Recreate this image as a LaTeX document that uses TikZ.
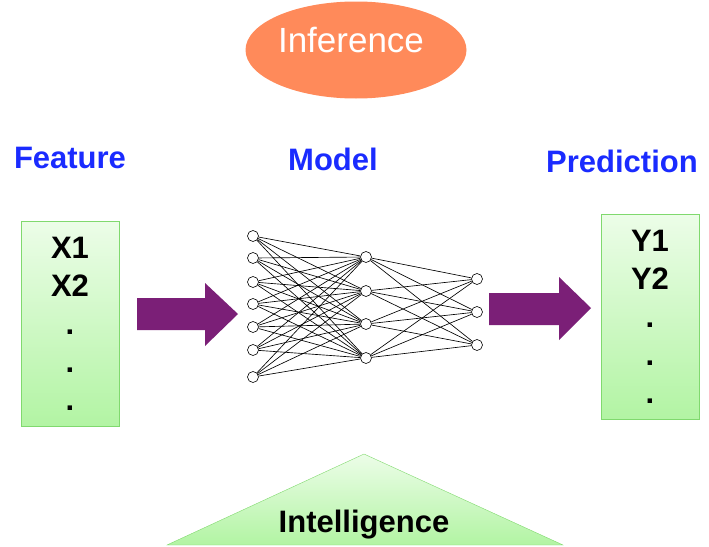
\documentclass[tikz,border=0pt]{standalone}
\usepackage{fontspec}
\setmainfont{Liberation Sans}
\usetikzlibrary{shapes.geometric, positioning}

\definecolor{inferorange}{HTML}{FF8A5A}
\definecolor{titleblue}{HTML}{1A2BFF}
\definecolor{arrowpurple}{HTML}{7B1F77}
\definecolor{greentop}{HTML}{ECFDE8}
\definecolor{greenbottom}{HTML}{B2F4A3}
\definecolor{greenline}{HTML}{80D96E}

\begin{document}
\begin{tikzpicture}[
	  x=1pt, y=-1pt,
	  title/.style={text=titleblue, font=\fontsize{31}{31}\selectfont\bfseries},
	  databox/.style={rectangle, minimum width=98pt, minimum height=205pt, inner sep=0pt, draw=greenline, top color=greentop, bottom color=greenbottom, align=center, font=\fontsize{31}{38}\selectfont\bfseries},
	  infer/.style={ellipse, minimum width=221pt, minimum height=97pt, fill=inferorange},
	  neuron/.style={circle, minimum size=11pt, inner sep=0pt, draw=black, fill=white, line width=0.6pt},
	  link/.style={black, line width=0.65pt},
	  bigarrow/.style={fill=arrowpurple}
	]
	\useasboundingbox (0,0) rectangle (709,546);

	% top ellipse
	\node (inference) [infer] at (356,50) {};
	\node (infertext) [text=white, font=\fontsize{35}{35}\selectfont] at ([xshift=-5pt, yshift=10pt]inference.center) {Inference};

	% titles
	\node (feature) [title] at (70,158) {Feature};
	\node (model) [title] at (333,159) {Model};
	\node (prediction) [title] at (622,161) {Prediction};

	% input and output boxes
	\node (xbox) [databox] at (70,324) {X1\\X2\\.\\.\\.};
	\node (ybox) [databox] at (650,317) {Y1\\Y2\\.\\.\\.};

	% network
	\foreach \y [count=\i] in {236,258,282,304,327,350,377}
	  \node (in\i) [neuron] at (253,\y) {};
	\foreach \y [count=\i] in {257,291,324,358}
	  \node (hid\i) [neuron] at (366,\y) {};
	\foreach \y [count=\i] in {279,312,345}
	  \node (out\i) [neuron] at (477,\y) {};
	\foreach \i in {1,...,7}
	  \foreach \j in {1,...,4}
	    \draw [link] (in\i) -- (hid\j);
	\foreach \j in {1,...,4}
	  \foreach \k in {1,...,3}
	    \draw [link] (hid\j) -- (out\k);

	% block arrows
	\fill [bigarrow] (137,298) -- (205,298) -- (205,283) -- (238,314) -- (205,346) -- (205,330) -- (137,330) -- cycle;
	\fill [bigarrow] (489,293) -- (559,293) -- (559,277) -- (591,308) -- (559,340) -- (559,325) -- (489,325) -- cycle;

	% bottom triangle
	\draw [draw=greenline, top color=greentop, bottom color=greenbottom] (167,545) -- (364,454) -- (563,545) -- cycle;
	\node (intelligence) [font=\fontsize{31}{31}\selectfont\bfseries] at (364,525) {Intelligence};

\end{tikzpicture}
\end{document}
